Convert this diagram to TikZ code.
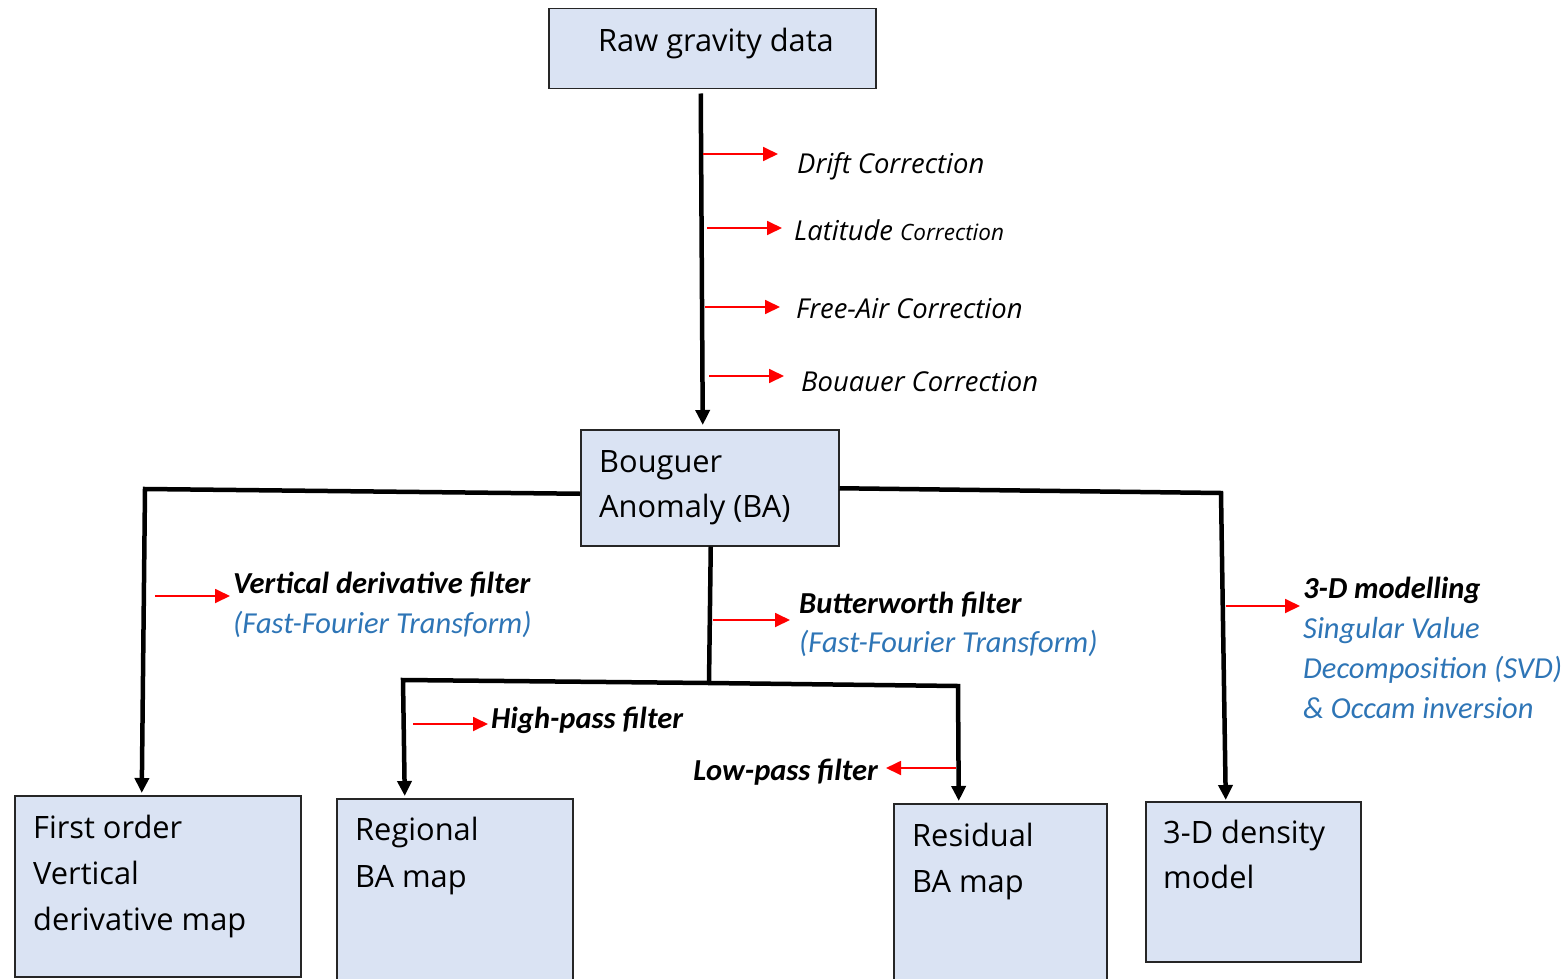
\documentclass[tikz,border=0pt]{standalone}
\usepackage{fontspec}
\setmainfont{Open Sans}
\newfontfamily\calib{Carlito}
\usetikzlibrary{arrows.meta}
\definecolor{boxfill}{RGB}{218,227,243}
\definecolor{labelblue}{RGB}{46,117,182}
\begin{document}
\begin{tikzpicture}[x=1pt,y=-1pt,
  box/.style={draw=black!85,line width=1.5pt,fill=boxfill,anchor=north west,inner sep=0pt},
  boxtext/.style={anchor=base west,inner sep=0pt,font=\fontsize{30.8}{36}\selectfont},
  conn/.style={line width=4.5pt,black},
  flow/.style={conn,-{Triangle[width=14pt,length=15pt]}},
  redarr/.style={red,line width=1.8pt,-{Triangle[width=14pt,length=15pt]}},
  corr/.style={anchor=base west,inner sep=0pt,font=\fontsize{27.4}{32}\selectfont\itshape},
  filt/.style={anchor=base west,inner sep=0pt,font=\calib\fontsize{30.5}{34}\selectfont\bfseries\itshape},
  filtblue/.style={anchor=base west,inner sep=0pt,text=labelblue,font=\calib\fontsize{30.5}{34}\selectfont\itshape},
]
\clip (0,0) rectangle (1568,979);

% boxes
\node[box,minimum width=327,minimum height=80] (raw) at (548,8) {};
\node[boxtext,anchor=base] (rawtext) at (716,52) {Raw gravity data};

\node[box,minimum width=258,minimum height=116] (ba) at (580,429) {};
\node[boxtext] (batext1) at (599,472) {Bouguer};
\node[boxtext] (batext2) at (599,517) {Anomaly (BA)};

\node[box,minimum width=286,minimum height=181] (fo) at (14,795) {};
\node[boxtext] (fotext1) at (33,838) {First order};
\node[boxtext] (fotext2) at (33,884) {Vertical};
\node[boxtext] (fotext3) at (33,930) {derivative map};

\node[box,minimum width=236,minimum height=200] (reg) at (336,798) {};
\node[boxtext] (regtext1) at (355,840) {Regional};
\node[boxtext] (regtext2) at (355,887) {BA map};

\node[box,minimum width=213,minimum height=200] (res) at (893,803) {};
\node[boxtext] (restext1) at (912,846) {Residual};
\node[boxtext] (restext2) at (912,892) {BA map};

\node[box,minimum width=215,minimum height=160] (dens) at (1145,801) {};
\node[boxtext] (denstext1) at (1163,843) {3-D density};
\node[boxtext] (denstext2) at (1163,888) {model};

% main trunk with the corrections
\draw[flow] ([shift={(-11.5,4)}]raw.south) -- ([shift={(-7,-4)}]ba.north);

\coordinate (d0) at (703,154); \coordinate (d1) at (778,154);
\coordinate (l0) at (707,228); \coordinate (l1) at (782,228);
\coordinate (f0) at (705,307); \coordinate (f1) at (780,307);
\coordinate (b0) at (709,376); \coordinate (b1) at (784,376);
\draw[redarr] (d0) -- (d1);
\draw[redarr] (l0) -- (l1);
\draw[redarr] (f0) -- (f1);
\draw[redarr] (b0) -- (b1);
\node[corr] (drift) at (797,173) {Drift Correction};
\node[corr] (lat) at (794,240) {Latitude {\fontsize{22.5}{26}\selectfont Correction}};
\node[corr] (fair) at (796,318) {Free-Air Correction};
\node[corr] (boug) at (801,391) {Bouauer Correction};

% branches out of the Bouguer anomaly
\coordinate (lk) at (145,489);
\draw[flow] ([yshift=-6pt]ba.west) -- (lk) -- ([xshift=-16pt,yshift=2pt]fo.north);

\coordinate (rk) at (1221,493);
\draw[flow] ([yshift=-0.5pt]ba.east) -- (rk) -- ([xshift=-27.5pt,yshift=1pt]dens.north);

\coordinate (mk) at (709,683);
\coordinate (ml) at (403,680);
\coordinate (mr) at (958,686);
\draw[conn] ([xshift=1pt]ba.south) -- (mk);
\draw[flow] (mk) -- (ml) -- ([xshift=-50pt,yshift=2pt]reg.north);
\draw[flow] (mk) -- (mr) -- ([xshift=-41.5pt,yshift=2pt]res.north);

% filter annotations
\coordinate (v0) at (155,596); \coordinate (v1) at (230,596);
\draw[redarr] (v0) -- (v1);
\node[filt] (vdf) at (233,593) {Vertical derivative filter};
\node[filtblue] (vdfft) at (233,633) {(Fast-Fourier Transform)};

\coordinate (w0) at (713,620); \coordinate (w1) at (790,620);
\draw[redarr] (w0) -- (w1);
\node[filt] (bwf) at (799,613) {Butterworth filter};
\node[filtblue] (bwfft) at (799,652) {(Fast-Fourier Transform)};

\coordinate (h0) at (413,724); \coordinate (h1) at (488,724);
\draw[redarr] (h0) -- (h1);
\node[filt] (hpf) at (491,728) {High-pass filter};

\coordinate (p0) at (956,768); \coordinate (p1) at (886,768);
\draw[redarr] (p0) -- (p1);
\node[filt,anchor=base east] (lpf) at (878,780) {Low-pass filter};

\coordinate (m0) at (1226,606); \coordinate (m1) at (1300,606);
\draw[redarr] (m0) -- (m1);
\node[filt] (mod) at (1303,598) {3-D modelling};
\node[filtblue] (svd1) at (1303,638) {Singular Value};
\node[filtblue] (svd2) at (1303,678) {Decomposition (SVD)};
\node[filtblue] (svd3) at (1303,718) {\& Occam inversion};
\end{tikzpicture}
\end{document}
